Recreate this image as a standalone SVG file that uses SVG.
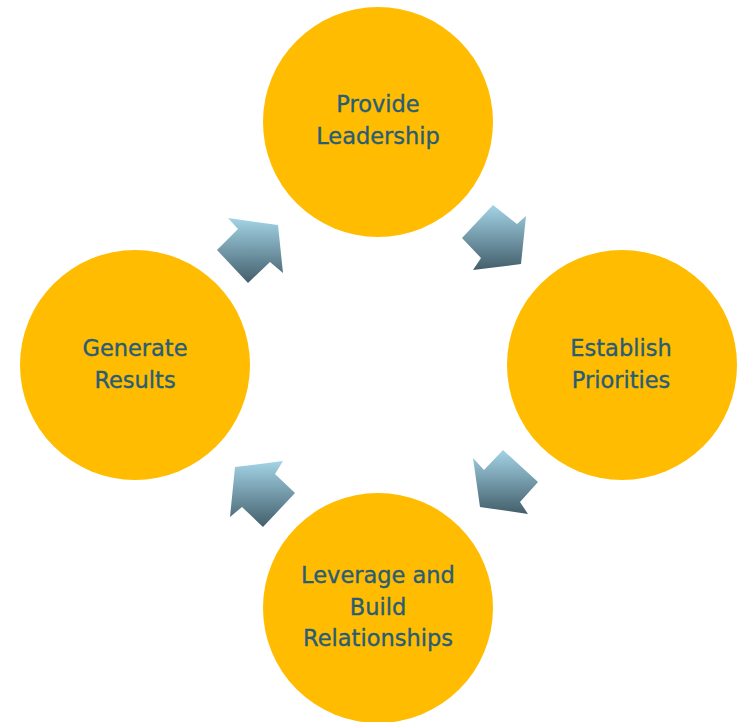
<svg xmlns="http://www.w3.org/2000/svg" width="739" height="722" viewBox="0 0 739 722">
  <defs>
    <linearGradient id="arrowFill" x1="0" y1="0" x2="0" y2="1">
      <stop offset="0" stop-color="#a3d4e6"/>
      <stop offset="1" stop-color="#435e6b"/>
    </linearGradient>
    <style>
      .step { fill: #ffbc00; }
      .label { font-family: "DejaVu Sans", Verdana, sans-serif; font-size: 22.5px; fill: #295c76; stroke: #295c76; stroke-width: 0.35; text-anchor: middle; }
      .arrow { fill: url(#arrowFill); }
    </style>
  </defs>
  <rect width="739" height="722" fill="#ffffff"/>

  <g id="connectors">
    <path class="arrow" d="M493,205 L517,224 L526,216 L521,264 L473,270 L481,258 L462,238 Z"/>
    <path class="arrow" d="M503,450 L538,482 L520,502 L528,514 L480,507 L473,458 L484,470 Z"/>
    <path class="arrow" d="M283,461 L235,467 L230,517 L242,507 L263,527 L295,493 L275,474 Z"/>
    <path class="arrow" d="M228,218 L278,225 L283,273 L270,262 L248,283 L217,250 L238,229 Z"/>
  </g>

  <g id="provide-leadership">
    <circle class="step" cx="378" cy="122" r="115"/>
    <text class="label" x="378" y="112">Provide</text>
    <text class="label" x="378" y="144">Leadership</text>
  </g>

  <g id="establish-priorities">
    <circle class="step" cx="622" cy="365" r="115"/>
    <text class="label" x="621" y="356">Establish</text>
    <text class="label" x="621" y="388">Priorities</text>
  </g>

  <g id="leverage-relationships">
    <circle class="step" cx="378" cy="608" r="115"/>
    <text class="label" x="378" y="583">Leverage and</text>
    <text class="label" x="378" y="615">Build</text>
    <text class="label" x="378" y="646">Relationships</text>
  </g>

  <g id="generate-results">
    <circle class="step" cx="135" cy="365" r="115"/>
    <text class="label" x="135" y="356">Generate</text>
    <text class="label" x="135" y="388">Results</text>
  </g>
</svg>
